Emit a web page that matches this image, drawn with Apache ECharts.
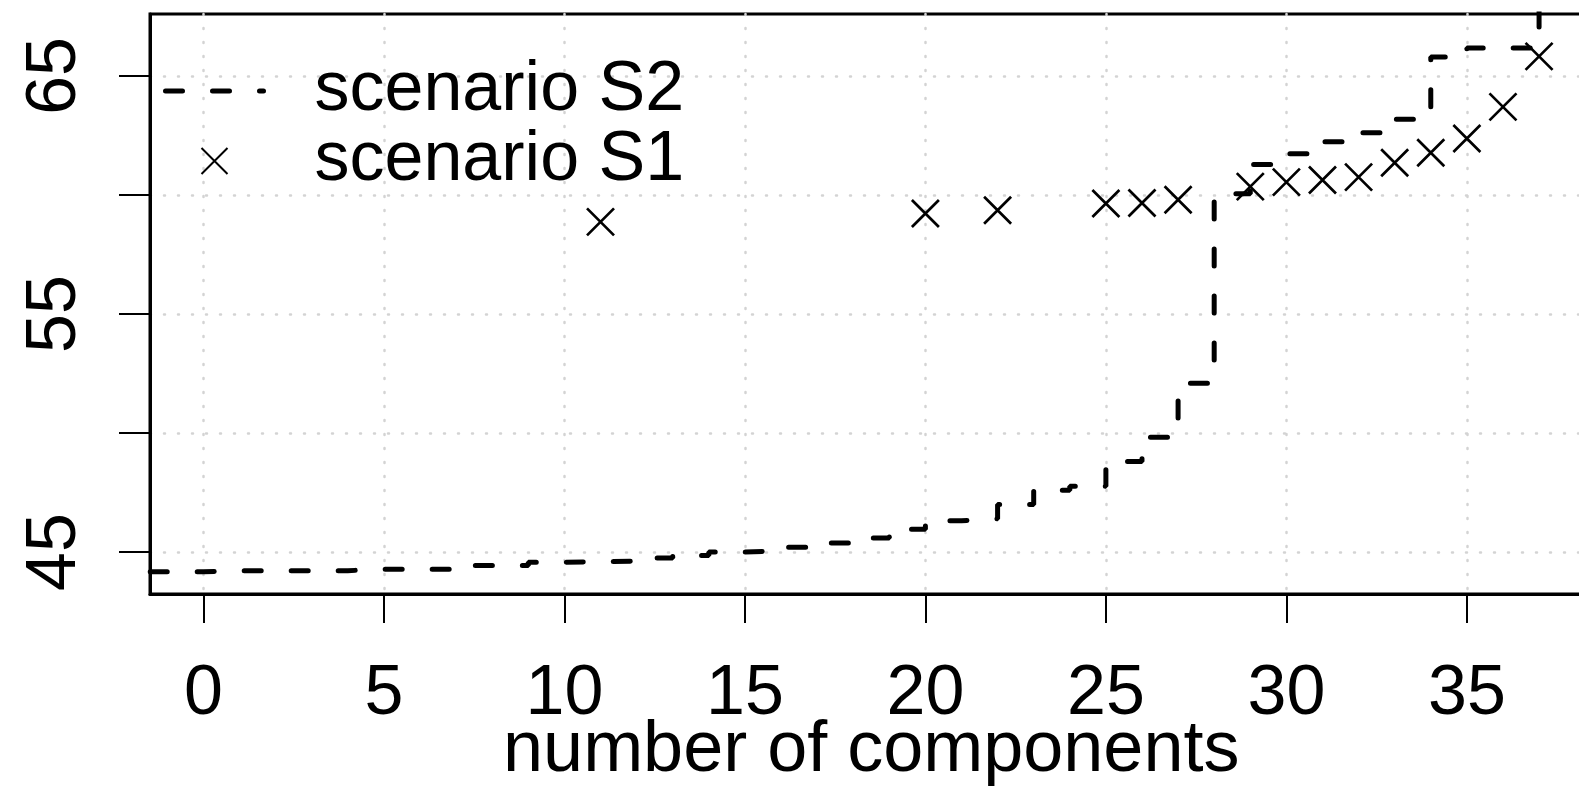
<!DOCTYPE html>
<html>
<head>
<meta charset="utf-8">
<script src="https://cdn.jsdelivr.net/npm/echarts@6/dist/echarts.min.js"></script>
<style>
html,body{margin:0;padding:0;background:#fff;overflow:hidden;width:1579px;height:797px;}
#chart{width:1600px;height:797px;}
</style>
</head>
<body>
<div id="chart"></div>
<script>
// x positions (number of components) for scenario S2 step line
const s2X = [-2,-1,0,1,2,3,4,5,6,7,8,9,10,11,12,13,14,15,16,17,18,19,20,21,22,23,24,25,26,27,28,29,30,31,32,33,34,35,36,37];
const s2Y = [44.17,44.17,44.22,44.22,44.22,44.22,44.28,44.28,44.28,44.44,44.44,44.57,44.59,44.62,44.75,44.86,45.00,45.05,45.20,45.38,45.59,45.96,46.32,46.40,47.00,47.60,47.77,48.81,49.82,52.09,60.05,61.28,61.73,62.23,62.61,63.18,65.79,66.17,66.17,69.00];
// scenario S1 points
const s1X = [11,20,22,25,26,27,29,30,31,32,33,34,35,36,37];
const s1Y = [58.87,59.22,59.36,59.64,59.66,59.80,60.35,60.54,60.63,60.75,61.35,61.77,62.37,63.70,65.82];
// ticks and labels
const xTicks = [0,5,10,15,20,25,30,35];
const yTicks = [45,50,55,60,65];
const yLabels = [45,55,65];
const seriesNames = ['scenario S2','scenario S1'];
const xTitle = 'number of components';

const FONT = '"Liberation Sans", Arial, Helvetica, sans-serif';
const chart = echarts.init(document.getElementById('chart'), null, {renderer:'canvas', width:1600, height:797});

const s2Data = s2X.map((x,i)=>[x, s2Y[i]]);
const s1Data = s1X.map((x,i)=>[x, s1Y[i]]);
const DASH = [17,30];

chart.setOption({
  animation:false,
  backgroundColor:'#fff',
  grid:{left:150, top:14, width:1442.5, height:580, outerBoundsMode:'none', containLabel:false,
        show:true, borderColor:'#000', borderWidth:3, backgroundColor:'transparent'},
  legend:{
    data:[{name:seriesNames[0], itemStyle:{color:'rgba(0,0,0,0)', borderWidth:0, opacity:0}}, {name:seriesNames[1]}],
    orient:'vertical',
    left:163, top:56, padding:0,
    itemWidth:98, itemHeight:26, itemGap:0,
    lineStyle:{color:'#000', width:5, type:DASH, cap:'round', dashOffset:0},
    textStyle:{fontFamily:FONT, fontSize:70, lineHeight:70, color:'#000', padding:[0,0,0,46]},
    selectedMode:false
  },
  xAxis:{
    type:'value', min:-1.48, max:38.48,
    name:xTitle, nameLocation:'middle', nameGap:121, nameMoveOverlap:false,
    nameTextStyle:{fontFamily:FONT, fontSize:72, color:'#000'},
    axisLine:{show:true, onZero:false, lineStyle:{color:'#000', width:3}},
    axisTick:{show:true, length:29, customValues:xTicks, lineStyle:{color:'#000', width:2}},
    axisLabel:{show:true, customValues:xTicks, margin:66, fontFamily:FONT, fontSize:70, color:'#000'},
    splitLine:{show:true, lineStyle:{color:'#d3d3d3', width:2.5, type:[1,13], cap:'round'}}
  },
  yAxis:{
    type:'value', min:43.24, max:67.6,
    axisLine:{show:true, onZero:false, lineStyle:{color:'#000', width:3}},
    axisTick:{show:true, length:31, customValues:yTicks, lineStyle:{color:'#000', width:2}},
    axisLabel:{show:true, customValues:yLabels, rotate:90, margin:59, fontFamily:FONT, fontSize:70, color:'#000'},
    splitLine:{show:true, lineStyle:{color:'#d3d3d3', width:2.5, type:[1,13], cap:'round'}}
  },
  series:[
    {
      name:seriesNames[0], type:'line', step:'end', data:s2Data,
      symbol:'none', showSymbol:false, clip:true,
      lineStyle:{color:'#000', width:5, type:DASH, cap:'round', dashOffset:28},
      itemStyle:{color:'#000'},
      z:3
    },
    {
      name:seriesNames[1], type:'scatter', data:s1Data,
      symbol:'path://M0,0L10,10M10,0L0,10', symbolSize:27,
      itemStyle:{color:'rgba(0,0,0,0)', borderColor:'#000', borderWidth:2.7, opacity:1},
      z:4
    }
  ]
});
</script>
</body>
</html>
